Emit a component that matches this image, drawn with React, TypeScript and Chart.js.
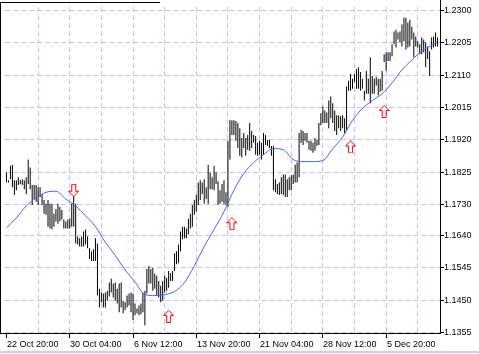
import React, { useEffect, useRef } from "react";
import { Chart, registerables } from "chart.js";

Chart.register(...registerables);

// ---- data (H4 bars, high / low prices) ----
const barHigh = [
  1.1823, 1.18, 1.1843, 1.1846, 1.18, 1.18, 1.1809, 1.18, 1.1803, 1.18,
  1.1809, 1.1861, 1.1838, 1.1786, 1.1786, 1.1786, 1.178, 1.178, 1.176, 1.1742,
  1.1731, 1.1742, 1.1731, 1.1731, 1.1702, 1.1716, 1.1731, 1.1722, 1.1713, 1.1685,
  1.1679, 1.1685, 1.1687, 1.1731, 1.1757, 1.1731, 1.1635, 1.163, 1.1635, 1.165,
  1.1656, 1.1635, 1.1601, 1.1592, 1.1598, 1.163, 1.1615, 1.1482, 1.1471, 1.1468,
  1.1471, 1.1476, 1.15, 1.1511, 1.1497, 1.15, 1.1482, 1.1497, 1.15, 1.1447,
  1.1442, 1.1462, 1.1468, 1.1471, 1.1468, 1.1439, 1.1424, 1.1433, 1.1439, 1.1471,
  1.1476, 1.154, 1.1549, 1.154, 1.1543, 1.1526, 1.152, 1.1505, 1.1491, 1.1505,
  1.152, 1.1514, 1.1534, 1.1528, 1.1534, 1.1586, 1.1592, 1.1612, 1.165, 1.1664,
  1.1664, 1.1659, 1.1687, 1.1702, 1.1728, 1.1742, 1.1757, 1.1794, 1.18, 1.1794,
  1.1803, 1.178, 1.1846, 1.1823, 1.1809, 1.1843, 1.1823, 1.1797, 1.1771, 1.1789,
  1.18, 1.1765, 1.1916, 1.1976, 1.1976, 1.1976, 1.1974, 1.1968, 1.1953, 1.1924,
  1.1939, 1.1924, 1.1933, 1.1968, 1.1945, 1.1933, 1.193, 1.191, 1.1916, 1.191,
  1.1939, 1.1933, 1.1919, 1.1919, 1.1901, 1.1901, 1.1803, 1.1789, 1.1794, 1.1809,
  1.1817, 1.1817, 1.1803, 1.1809, 1.1815, 1.1817, 1.1846, 1.1852, 1.1939, 1.1948,
  1.1945, 1.1939, 1.1939, 1.1916, 1.1916, 1.191, 1.1924, 1.1919, 1.1968, 1.1997,
  1.2017, 1.2005, 1.1999, 1.2034, 1.2046, 1.2026, 1.2005, 1.1991, 1.1991, 1.1988,
  1.1991, 1.1982, 1.2075, 1.2092, 1.2112, 1.2098, 1.2112, 1.2127, 1.2132, 1.2118,
  1.2098, 1.2063, 1.2121, 1.2098, 1.2161, 1.2106, 1.2098, 1.2104, 1.2098, 1.2098,
  1.2121, 1.217, 1.2176, 1.2176, 1.2176, 1.2199, 1.2237, 1.2242, 1.2234, 1.2237,
  1.2257, 1.2277, 1.2277, 1.2263, 1.2271, 1.2251, 1.2234, 1.2222, 1.2208, 1.2199,
  1.2219, 1.2213, 1.2205, 1.2193, 1.2179, 1.2219, 1.2222, 1.2234, 1.2219,
];

const barLow = [
  1.1794, 1.1794, 1.1803, 1.178, 1.1757, 1.1771, 1.1786, 1.1789, 1.1786, 1.1774,
  1.176, 1.1789, 1.1774, 1.1728, 1.1745, 1.1737, 1.1728, 1.1751, 1.1728, 1.1702,
  1.1699, 1.1664, 1.1659, 1.1656, 1.1664, 1.1679, 1.1673, 1.1679, 1.1685, 1.1659,
  1.1659, 1.1659, 1.1659, 1.1664, 1.1664, 1.1615, 1.1612, 1.1606, 1.1606, 1.1606,
  1.1612, 1.1601, 1.1569, 1.1563, 1.1563, 1.1563, 1.1462, 1.1427, 1.1442, 1.1427,
  1.1427, 1.1447, 1.1459, 1.1471, 1.1456, 1.1447, 1.1439, 1.1413, 1.1427, 1.141,
  1.1419, 1.1427, 1.1433, 1.1413, 1.139, 1.1404, 1.141, 1.1404, 1.1407, 1.1413,
  1.1375, 1.1468, 1.1497, 1.1497, 1.1476, 1.1482, 1.1462, 1.1456, 1.1442, 1.1447,
  1.1471, 1.1476, 1.1485, 1.1505, 1.1505, 1.1534, 1.1554, 1.1557, 1.1592, 1.1627,
  1.163, 1.163, 1.1641, 1.1659, 1.1664, 1.1699, 1.1708, 1.1728, 1.1742, 1.176,
  1.1731, 1.1745, 1.1731, 1.1774, 1.1774, 1.1771, 1.1789, 1.1728, 1.1731, 1.1737,
  1.1731, 1.1728, 1.1722, 1.1861, 1.1933, 1.1933, 1.1916, 1.1895, 1.1872, 1.1867,
  1.1895, 1.1872, 1.189, 1.1887, 1.1895, 1.191, 1.1875, 1.1872, 1.1875, 1.1861,
  1.1875, 1.1904, 1.1901, 1.1895, 1.1872, 1.1771, 1.1765, 1.176, 1.1757, 1.176,
  1.1757, 1.1751, 1.1751, 1.1771, 1.1771, 1.1789, 1.1794, 1.1794, 1.1809, 1.191,
  1.1904, 1.1916, 1.191, 1.189, 1.1887, 1.1881, 1.1887, 1.1901, 1.1904, 1.1962,
  1.1968, 1.1968, 1.1968, 1.1953, 1.1982, 1.1968, 1.1945, 1.1933, 1.1953, 1.1945,
  1.1953, 1.1939, 1.1945, 1.2063, 1.2063, 1.2069, 1.2089, 1.2069, 1.2069, 1.2063,
  1.2069, 1.2034, 1.2054, 1.2054, 1.2026, 1.2054, 1.2054, 1.2078, 1.2049, 1.206,
  1.2063, 1.2147, 1.2121, 1.215, 1.215, 1.2164, 1.2199, 1.219, 1.2213, 1.2205,
  1.2193, 1.2208, 1.2184, 1.219, 1.2193, 1.2213, 1.2161, 1.2193, 1.219, 1.217,
  1.217, 1.2176, 1.2132, 1.2156, 1.2106, 1.2184, 1.219, 1.2193, 1.2193,
];

// moving average read at every 5th bar
const maBarIndex = [
  0, 5, 10, 15, 20, 25, 30, 35, 40, 45, 50, 55, 60, 65, 70, 75, 80, 85, 90, 95,
  100, 105, 110, 115, 120, 125, 130, 135, 140, 145, 150, 155, 160, 165, 170, 175,
  180, 185, 190, 195, 200, 205, 210, 215, 218,
];
const maValue = [
  1.1661, 1.169, 1.1725, 1.1748, 1.1765, 1.1768, 1.1745, 1.1725, 1.1696, 1.1664,
  1.1618, 1.158, 1.1537, 1.1502, 1.1465, 1.1462, 1.1465, 1.1474, 1.15, 1.1549,
  1.1606, 1.1656, 1.1708, 1.1771, 1.182, 1.1852, 1.1875, 1.1893, 1.189, 1.1861,
  1.1855, 1.1855, 1.1858, 1.1893, 1.1927, 1.1976, 1.2011, 1.2034, 1.2054, 1.2086,
  1.2124, 1.2153, 1.2179, 1.2196, 1.2208,
];

const priceTicks = [1.23, 1.2205, 1.211, 1.2015, 1.192, 1.1825, 1.173, 1.164, 1.1545, 1.145, 1.1355];
const timeTickIndex = [0, 32, 64, 96, 128, 160, 192];
const timeTickLabels = [
  "22 Oct 20:00", "30 Oct 04:00", "6 Nov 12:00", "13 Nov 20:00",
  "21 Nov 04:00", "28 Nov 12:00", "5 Dec 20:00",
];
const upArrowIndex = [82, 114, 174, 191];
const upArrowPrice = [1.1401, 1.1673, 1.1898, 1.2002];
const downArrowIndex = [34];
const downArrowPrice = [1.1771];

const PRICE_MIN = 1.135211;
const PRICE_MAX = 1.231445;
const GRID_STEP = 16;
const GRID = "#c2c2f6";
const FONT = '9px "Liberation Sans", Arial, sans-serif';

function makeArrow(up: boolean): HTMLCanvasElement {
  const c = document.createElement("canvas");
  c.width = 11;
  c.height = 13;
  const g = c.getContext("2d")!;
  const pts: [number, number][] = [
    [5.5, 0.5], [10.5, 5.5], [7.5, 5.5], [7.5, 12.5], [3.5, 12.5], [3.5, 5.5], [0.5, 5.5],
  ];
  g.beginPath();
  pts.forEach(([x, y], k) => {
    const yy = up ? y : 13 - y;
    if (k === 0) g.moveTo(x, yy);
    else g.lineTo(x, yy);
  });
  g.closePath();
  g.fillStyle = "#ffffff";
  g.fill();
  g.strokeStyle = "#ff0000";
  g.lineWidth = 1;
  g.stroke();
  return c;
}

const framePlugin = {
  id: "mtframe",
  beforeDatasetsDraw(chart: any) {
    const { ctx, chartArea: a, scales } = chart;
    const xs = scales.x;
    const ys = scales.y;
    ctx.save();
    ctx.strokeStyle = GRID;
    ctx.lineWidth = 1;
    ctx.setLineDash([5, 3]);
    priceTicks.forEach((v) => {
      const py = Math.round(ys.getPixelForValue(v)) + 0.5;
      ctx.beginPath();
      ctx.moveTo(a.left, py);
      ctx.lineTo(a.right, py);
      ctx.stroke();
    });
    for (let i = GRID_STEP; i < barHigh.length; i += GRID_STEP) {
      const px = Math.floor(xs.getPixelForValue(i)) + 0.5;
      ctx.beginPath();
      ctx.moveTo(px, a.top + 2);
      ctx.lineTo(px, a.bottom);
      ctx.stroke();
    }
    ctx.restore();
  },
  afterDraw(chart: any) {
    const { ctx, chartArea: a, scales } = chart;
    const xs = scales.x;
    const ys = scales.y;
    ctx.save();
    ctx.fillStyle = "#000";
    ctx.fillRect(0, 2, 1, a.bottom - 1);
    ctx.fillRect(0, 2, 160, 1);
    ctx.fillRect(a.right, 0, 1, a.bottom + 1);
    ctx.fillRect(0, a.bottom, a.right + 1, 1);
    ctx.font = FONT;
    ctx.textAlign = "left";
    ctx.textBaseline = "middle";
    priceTicks.forEach((v) => {
      const py = Math.round(ys.getPixelForValue(v));
      ctx.fillRect(a.right + 1, py, 3, 1);
      ctx.fillText(v.toFixed(4), a.right + 4, py + 0.5);
    });
    ctx.textBaseline = "alphabetic";
    timeTickIndex.forEach((idx, k) => {
      const px = Math.floor(xs.getPixelForValue(idx));
      ctx.fillRect(px, a.bottom + 1, 1, 4);
      ctx.fillText(timeTickLabels[k], px + 1, a.bottom + 14);
    });
    ctx.fillStyle = "#c9cff2";
    ctx.fillRect(0, 351, 479, 2);
    ctx.restore();
  },
};

export default function App() {
  const ref = useRef<HTMLCanvasElement>(null);
  useEffect(() => {
    const canvas = ref.current;
    if (!canvas) return;
    const upImg = makeArrow(true);
    const downImg = makeArrow(false);
    const chart = new Chart(canvas, {
      type: "bar",
      data: {
        datasets: [
          {
            type: "line",
            data: upArrowIndex.map((i, k) => ({ x: i, y: upArrowPrice[k] })),
            showLine: false,
            pointStyle: upImg as any,
            pointRadius: 3,
            order: 0,
          } as any,
          {
            type: "line",
            data: downArrowIndex.map((i, k) => ({ x: i, y: downArrowPrice[k] })),
            showLine: false,
            pointStyle: downImg as any,
            pointRadius: 3,
            order: 0,
          } as any,
          {
            type: "line",
            data: maBarIndex.map((i, k) => ({ x: i, y: maValue[k] })),
            borderColor: "#3f66ec",
            borderWidth: 1,
            pointRadius: 0,
            cubicInterpolationMode: "monotone",
            order: 1,
          } as any,
          {
            type: "bar",
            data: barHigh.map((h, i) => ({ x: i, y: [barLow[i], h] })),
            backgroundColor: "#000000",
            borderWidth: 0,
            inflateAmount: 0,
            barThickness: 1,
            maxBarThickness: 1,
            order: 2,
          } as any,
        ],
      },
      options: {
        responsive: false,
        devicePixelRatio: 1,
        animation: false,
        events: [],
        layout: { padding: { left: 0, top: 0, right: 39, bottom: 21 } },
        plugins: { legend: { display: false }, tooltip: { enabled: false } },
        scales: {
          x: { type: "linear", min: -0.75, max: 219.25, offset: false, display: false },
          y: { type: "linear", min: PRICE_MIN, max: PRICE_MAX, display: false },
        },
      },
      plugins: [framePlugin],
    } as any);
    return () => chart.destroy();
  }, []);
  return (
    <div style={{ position: "fixed", left: 0, top: 0, width: 479, height: 354, background: "#fff" }}>
      <canvas ref={ref} width={479} height={354} style={{ display: "block", width: 479, height: 354 }} />
    </div>
  );
}
